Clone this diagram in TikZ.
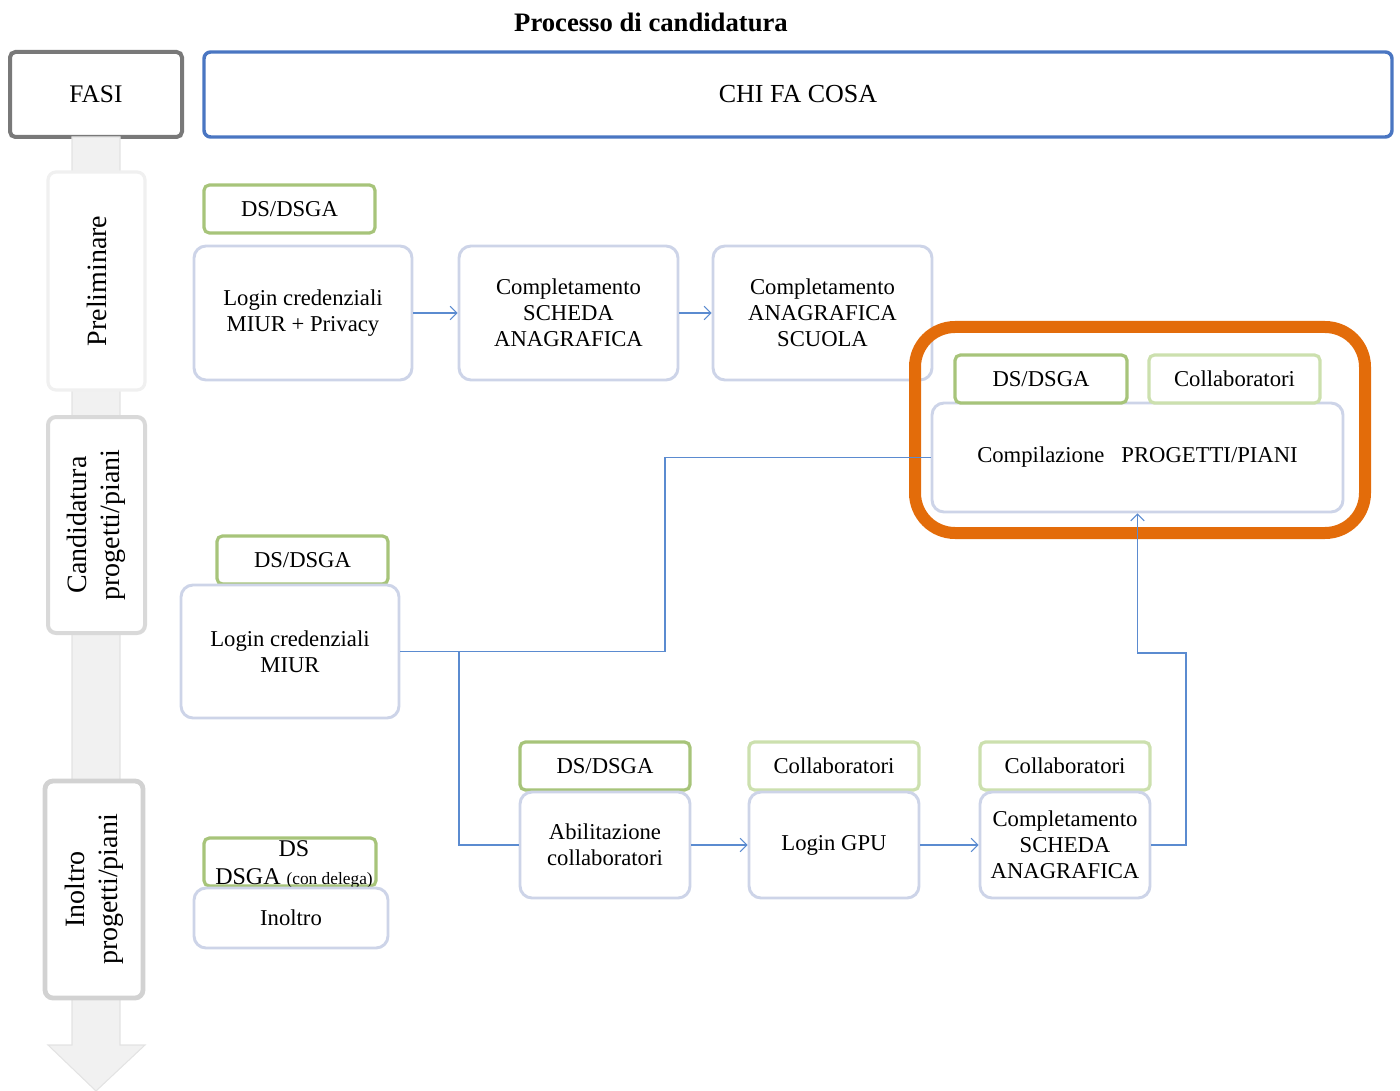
\documentclass[tikz,border=0pt]{standalone}
\usepackage{fontspec}
\setmainfont{Liberation Serif}
\usetikzlibrary{arrows.meta}

\definecolor{flowblue}{HTML}{5B8BD0}
\definecolor{headblue}{HTML}{4A76C2}
\definecolor{stepline}{HTML}{CDD4E8}
\definecolor{rolegreen}{HTML}{A7C47A}
\definecolor{rolelight}{HTML}{CCE0AE}
\definecolor{hotorange}{HTML}{E36C0A}

\tikzset{
  boxsize/.style 2 args={minimum width=#1*0.75pt, minimum height=#2*0.75pt},
  stepbox/.style={draw=stepline, line width=2.2pt, fill=white, rounded corners=9pt,
    align=center, inner sep=2pt},
  rolebox/.style={draw=rolegreen, line width=2.4pt, fill=white, rounded corners=4pt,
    align=center, inner sep=1pt},
  rolelite/.style={rolebox, draw=rolelight},
  phasebox/.style={fill=white, rounded corners=6pt, align=center, rotate=90,
    inner sep=1pt, font=\fontsize{21}{25}\selectfont},
  flow/.style={draw=flowblue, line width=0.8pt, -{Straight Barb[length=5pt, width=10pt]}},
  link/.style={draw=flowblue, line width=0.8pt}
}

\begin{document}
\begin{tikzpicture}[x=0.75pt, y=-0.75pt, font=\fontsize{17}{19.5}\selectfont]
  \useasboundingbox (0,0) rectangle (1400,1091);

  % Title and headers
  \node[font=\fontsize{20}{24}\selectfont\bfseries] (title) at (651,22) {Processo di candidatura};
  \node[draw=gray!95!black, line width=3pt, rounded corners=4pt, boxsize={172}{85},
    font=\fontsize{19}{22}\selectfont] (fasi) at (96,94.5) {FASI};
  \node[draw=headblue, line width=2.6pt, rounded corners=5pt, boxsize={1188}{85},
    font=\fontsize{19.5}{22}\selectfont] (chi) at (798,94.5) {CHI FA COSA};

  % Phase arrow
  \fill[gray!11, draw=gray!22, line width=0.8pt]
    (72,137) -- (120,137) -- (120,1045) -- (145,1045) -- (96,1091) -- (48,1045) -- (72,1045) -- cycle;
  \node[phasebox, draw=gray!12, line width=2.4pt, boxsize={218}{97}] (prelim) at (96.5,281) {Preliminare};
  \node[phasebox, draw=gray!30, line width=3pt, boxsize={216}{97}] (cand) at (96.5,525) {Candidatura\\progetti/piani};
  \node[phasebox, draw=gray!35, line width=3.6pt, boxsize={217}{98}] (inoltrofase) at (94,889.5) {Inoltro\\progetti/piani};

  % Preliminare
  \node[rolebox, boxsize={171}{48}] (roleA) at (289.5,209) {DS/DSGA};
  \node[stepbox, boxsize={218}{134}] (loginA) at (303,313) {Login credenziali\\MIUR + Privacy};
  \node[stepbox, boxsize={219}{134}] (schedaA) at (568.5,313) {Completamento\\SCHEDA\\ANAGRAFICA};
  \node[stepbox, boxsize={219}{134}] (scuola) at (822.5,313) {Completamento\\ANAGRAFICA\\SCUOLA};

  \draw[flow] (loginA) -- (schedaA);
  \draw[flow] (schedaA) -- (scuola);

  % Candidatura
  \node[draw=hotorange, line width=9pt, rounded corners=30pt, boxsize={450}{206}] (focus) at (1140,430) {};
  \node[stepbox, boxsize={411}{109}] (compila) at (1137.5,457.5) {Compilazione\ \ \ PROGETTI/PIANI};
  \node[rolebox, boxsize={172}{48}] (roleB) at (1041,379) {DS/DSGA};
  \node[rolelite, boxsize={171}{48}] (roleC) at (1234.5,379) {Collaboratori};

  \node[rolebox, boxsize={171}{48}] (roleD) at (302.5,560) {DS/DSGA};
  \node[stepbox, boxsize={218}{133}] (loginB) at (290,651.5) {Login credenziali\\MIUR};

  \node[rolebox, boxsize={170}{48}] (roleE) at (605,766) {DS/DSGA};
  \node[stepbox, boxsize={170}{106}] (abilita) at (605,845) {Abilitazione\\collaboratori};
  \node[rolelite, boxsize={170}{48}] (roleF) at (834,766) {Collaboratori};
  \node[stepbox, boxsize={170}{106}] (gpu) at (834,845) {Login GPU};
  \node[rolelite, boxsize={170}{48}] (roleG) at (1065,766) {Collaboratori};
  \node[stepbox, boxsize={170}{106}] (schedaB) at (1065,845) {Completamento\\SCHEDA\\ANAGRAFICA};

  \coordinate (up) at (665,651.5);
  \coordinate (down) at (459,651.5);
  \coordinate (back) at (1186,653);

  \draw[link] (loginB.east) -- (up) |- (compila.west);
  \draw[link] (down) |- (abilita.west);
  \draw[flow] (abilita) -- (gpu);
  \draw[flow] (gpu) -- (schedaB);
  \draw[flow] (schedaB.east) -| (back) -| (compila.south);

  % Inoltro
  \node[rolebox, boxsize={172}{48}] (roleH) at (290,862) {};
  \node[font=\fontsize{18}{21}\selectfont, align=center, inner sep=0pt] (roleHtxt) at (294,864)
    {DS\\DSGA {\fontsize{13}{15}\selectfont(con delega)}};
  \node[stepbox, boxsize={194}{60}] (inoltro) at (291,918) {Inoltro};
\end{tikzpicture}
\end{document}
